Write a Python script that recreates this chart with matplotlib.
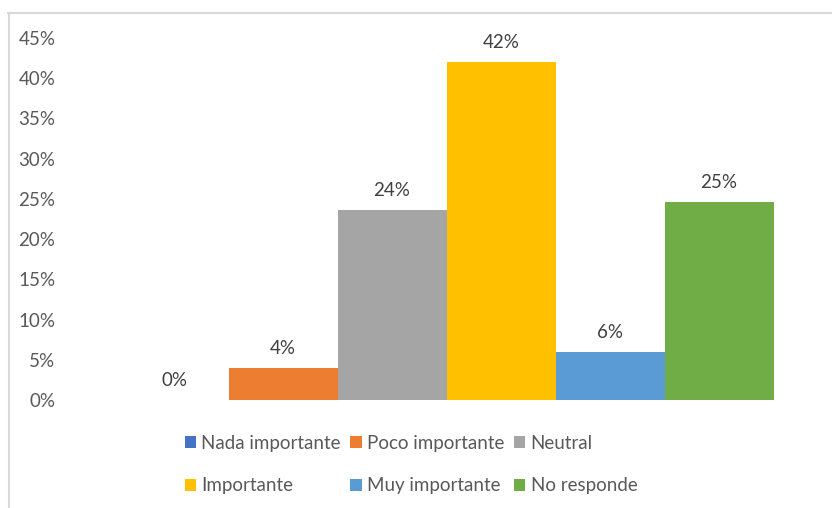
import matplotlib
matplotlib.use("Agg")
import matplotlib.pyplot as plt
from matplotlib.lines import Line2D
from matplotlib.ticker import PercentFormatter

categories = ["Nada importante", "Poco importante", "Neutral",
              "Importante", "Muy importante", "No responde"]
values = [0.0, 4.0, 23.6, 42.0, 6.0, 24.6]
colors = ["#4472C4", "#ED7D31", "#A5A5A5", "#FFC000", "#5B9BD5", "#70AD47"]
yticks = [0, 5, 10, 15, 20, 25, 30, 35, 40, 45]

W, H = 832, 508
fig = plt.figure(figsize=(W / 100, H / 100), dpi=100)
plt.rcParams['font.family'] = ['Lato', 'DejaVu Sans']
FS = 13.5

# plot area in pixel coords of the reference
ax = fig.add_axes([65 / W, (H - 400) / H, (828 - 65) / W, (400 - 38) / H])

bars = []
for i, (cat, v, c) in enumerate(zip(categories, values, colors)):
    b = ax.bar(i + 1, v, width=1.0, color=c, label=cat)
    bars.append(b)
    ax.annotate(f"{v:.0f}%", (i + 1, v), xytext=(0, 8), textcoords="offset points",
                ha="center", va="bottom", fontsize=FS, color="#404040")

ax.set_xlim(0, 7)
ax.set_ylim(0, 45)
ax.set_yticks(yticks)
ax.yaxis.set_major_formatter(PercentFormatter(decimals=0))
ax.set_xticks([])
ax.tick_params(axis="y", length=0, pad=7, labelsize=FS, labelcolor="#595959")
for s in ax.spines.values():
    s.set_visible(False)

# legend filled row by row (matplotlib fills columns first)
order = [0, 3, 1, 4, 2, 5]
handles = [bars[k] for k in order]
labels = [categories[k] for k in order]
fig.legend(handles, labels, ncol=3, loc="upper center",
           bbox_to_anchor=(411 / W, (H - 418) / H), frameon=False,
           fontsize=FS, labelcolor="#595959", handlelength=0.6, handleheight=0.6,
           handletextpad=0.3, columnspacing=0.5, labelspacing=1.35)

# chart border (partially visible)
fig.add_artist(Line2D([8.5 / W, 8.5 / W], [0, (H - 13) / H], color="#D9D9D9", lw=1.5))
fig.add_artist(Line2D([8 / W, 1], [(H - 13) / H, (H - 13) / H], color="#D9D9D9", lw=1.5))

fig.savefig("out.png", dpi=100)
